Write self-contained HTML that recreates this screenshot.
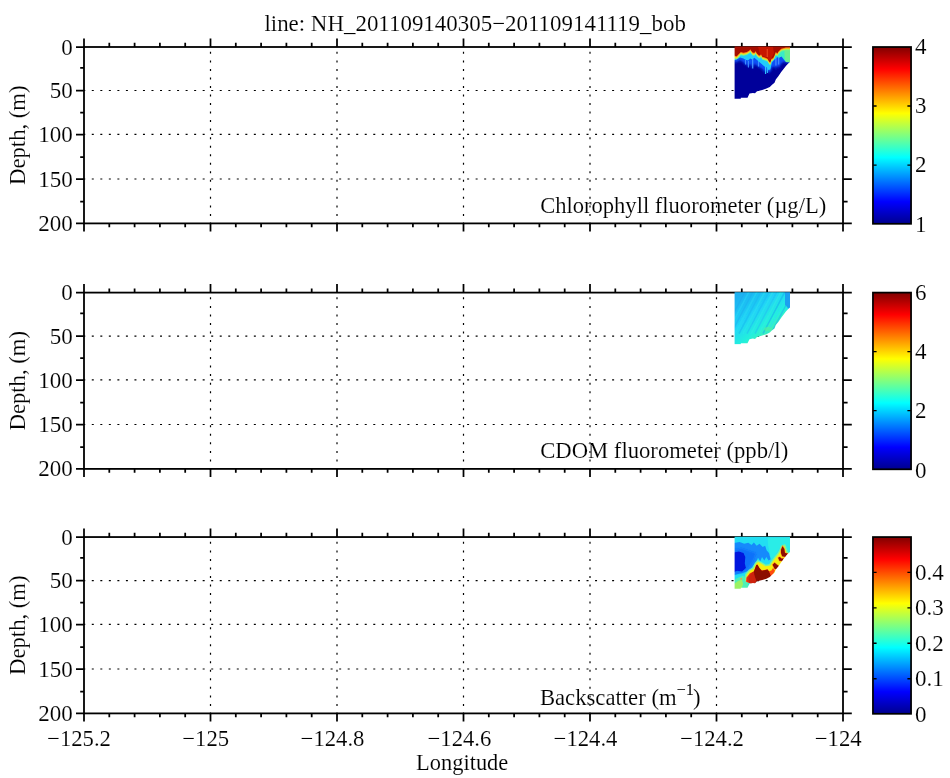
<!DOCTYPE html>
<html><head><meta charset="utf-8"><title>line: NH_201109140305-201109141119_bob</title>
<style>
html,body{margin:0;padding:0;background:#fff;}
svg{display:block;}
text{font-family:"Liberation Serif","Times New Roman",serif;font-size:22.7px;fill:#000;stroke:#fff;stroke-width:0.12px;paint-order:fill stroke;}
.ax{stroke:#000;stroke-width:1.8;fill:none;}
.tk{stroke:#000;stroke-width:1.75;fill:none;}
.gr{stroke:#000;stroke-width:1.2;stroke-dasharray:2 6.53;fill:none;}
.tl{font-size:23px;}
</style></head><body>
<svg width="950" height="778" viewBox="0 0 950 778">
<defs>
<linearGradient id="jet" x1="0" y1="1" x2="0" y2="0">
<stop offset="0" stop-color="#00008f"/><stop offset="0.125" stop-color="#0000ff"/><stop offset="0.375" stop-color="#00ffff"/><stop offset="0.625" stop-color="#ffff00"/><stop offset="0.875" stop-color="#ff0000"/><stop offset="1" stop-color="#800000"/>
</linearGradient>
<filter id="b1" x="-10%" y="-10%" width="120%" height="120%"><feGaussianBlur stdDeviation="0.7"/></filter>
<filter id="b2" x="-10%" y="-10%" width="120%" height="120%"><feGaussianBlur stdDeviation="1.1"/></filter>
<clipPath id="shape"><path d="M734.6 -0.4H790V15L788.2 16.5L785.9 19L781.2 25.1L778.5 29.1L775.8 32.5L774.5 35.8L771.8 37.9L769.8 39.9L766.4 41.6L762.3 42.9L757 44.3L755 46.3L752.9 46L749.5 46.6L747.5 50.7H740.8V51.7H734.6Z"/></clipPath>
<linearGradient id="cd" gradientUnits="userSpaceOnUse" x1="742" y1="0" x2="775" y2="40">
<stop offset="0" stop-color="#1cb0f0"/><stop offset="0.45" stop-color="#20d4f6"/><stop offset="0.75" stop-color="#24f0dc"/><stop offset="1" stop-color="#48f0a8"/>
</linearGradient>
</defs>
<rect width="950" height="778" fill="#fff"/>

<path class="gr" d="M210.50 224.45V47.00"/>
<path class="gr" d="M337.00 224.45V47.00"/>
<path class="gr" d="M463.50 224.45V47.00"/>
<path class="gr" d="M590.00 224.45V47.00"/>
<path class="gr" d="M716.50 224.45V47.00"/>
<path class="gr" d="M83.25 90.50H843.00"/>
<path class="gr" d="M83.25 134.40H843.00"/>
<path class="gr" d="M83.25 179.00H843.00"/>
<path class="gr" d="M210.50 469.95V292.60"/>
<path class="gr" d="M337.00 469.95V292.60"/>
<path class="gr" d="M463.50 469.95V292.60"/>
<path class="gr" d="M590.00 469.95V292.60"/>
<path class="gr" d="M716.50 469.95V292.60"/>
<path class="gr" d="M83.25 336.07H843.00"/>
<path class="gr" d="M83.25 379.95H843.00"/>
<path class="gr" d="M83.25 424.52H843.00"/>
<path class="gr" d="M210.50 714.45V537.05"/>
<path class="gr" d="M337.00 714.45V537.05"/>
<path class="gr" d="M463.50 714.45V537.05"/>
<path class="gr" d="M590.00 714.45V537.05"/>
<path class="gr" d="M716.50 714.45V537.05"/>
<path class="gr" d="M83.25 580.54H843.00"/>
<path class="gr" d="M83.25 624.42H843.00"/>
<path class="gr" d="M83.25 669.01H843.00"/>
<rect class="ax" x="84.0" y="47.0" width="759.0" height="176.4"/>
<path class="tk" d="M84.00 47.0v-8.6M84.00 223.4v8.2M109.30 47.0v-4.2M109.30 223.4v3.8000000000000003M134.60 47.0v-4.2M134.60 223.4v3.8000000000000003M159.90 47.0v-4.2M159.90 223.4v3.8000000000000003M185.20 47.0v-4.2M185.20 223.4v3.8000000000000003M210.50 47.0v-8.6M210.50 223.4v8.2M235.80 47.0v-4.2M235.80 223.4v3.8000000000000003M261.10 47.0v-4.2M261.10 223.4v3.8000000000000003M286.40 47.0v-4.2M286.40 223.4v3.8000000000000003M311.70 47.0v-4.2M311.70 223.4v3.8000000000000003M337.00 47.0v-8.6M337.00 223.4v8.2M362.30 47.0v-4.2M362.30 223.4v3.8000000000000003M387.60 47.0v-4.2M387.60 223.4v3.8000000000000003M412.90 47.0v-4.2M412.90 223.4v3.8000000000000003M438.20 47.0v-4.2M438.20 223.4v3.8000000000000003M463.50 47.0v-8.6M463.50 223.4v8.2M488.80 47.0v-4.2M488.80 223.4v3.8000000000000003M514.10 47.0v-4.2M514.10 223.4v3.8000000000000003M539.40 47.0v-4.2M539.40 223.4v3.8000000000000003M564.70 47.0v-4.2M564.70 223.4v3.8000000000000003M590.00 47.0v-8.6M590.00 223.4v8.2M615.30 47.0v-4.2M615.30 223.4v3.8000000000000003M640.60 47.0v-4.2M640.60 223.4v3.8000000000000003M665.90 47.0v-4.2M665.90 223.4v3.8000000000000003M691.20 47.0v-4.2M691.20 223.4v3.8000000000000003M716.50 47.0v-8.6M716.50 223.4v8.2M741.80 47.0v-4.2M741.80 223.4v3.8000000000000003M767.10 47.0v-4.2M767.10 223.4v3.8000000000000003M792.40 47.0v-4.2M792.40 223.4v3.8000000000000003M817.70 47.0v-4.2M817.70 223.4v3.8000000000000003M843.00 47.0v-8.6M843.00 223.4v8.2M84.0 47.00h-8.0M843.0 47.00h8.8M84.0 67.90h-3.8000000000000003M843.0 67.90h4.6000000000000005M84.0 90.60h-8.0M843.0 90.60h8.8M84.0 112.50h-3.8000000000000003M843.0 112.50h4.6000000000000005M84.0 134.50h-8.0M843.0 134.50h8.8M84.0 157.05h-3.8000000000000003M843.0 157.05h4.6000000000000005M84.0 179.10h-8.0M843.0 179.10h8.8M84.0 201.60h-3.8000000000000003M843.0 201.60h4.6000000000000005M84.0 223.40h-8.0M843.0 223.40h8.8"/>
<text class="tl" x="72.8" y="54.50" text-anchor="end">0</text>
<text class="tl" x="72.8" y="98.10" text-anchor="end">50</text>
<text class="tl" x="72.8" y="142.00" text-anchor="end">100</text>
<text class="tl" x="72.8" y="186.60" text-anchor="end">150</text>
<text class="tl" x="72.8" y="230.90" text-anchor="end">200</text>
<text transform="translate(24.5 135.20) rotate(-90)" text-anchor="middle" textLength="99.4" lengthAdjust="spacingAndGlyphs">Depth, (m)</text>
<rect class="ax" x="84.0" y="292.6" width="759.0" height="176.29999999999995"/>
<path class="tk" d="M84.00 292.6v-8.6M84.00 468.9v8.2M109.30 292.6v-4.2M109.30 468.9v3.8000000000000003M134.60 292.6v-4.2M134.60 468.9v3.8000000000000003M159.90 292.6v-4.2M159.90 468.9v3.8000000000000003M185.20 292.6v-4.2M185.20 468.9v3.8000000000000003M210.50 292.6v-8.6M210.50 468.9v8.2M235.80 292.6v-4.2M235.80 468.9v3.8000000000000003M261.10 292.6v-4.2M261.10 468.9v3.8000000000000003M286.40 292.6v-4.2M286.40 468.9v3.8000000000000003M311.70 292.6v-4.2M311.70 468.9v3.8000000000000003M337.00 292.6v-8.6M337.00 468.9v8.2M362.30 292.6v-4.2M362.30 468.9v3.8000000000000003M387.60 292.6v-4.2M387.60 468.9v3.8000000000000003M412.90 292.6v-4.2M412.90 468.9v3.8000000000000003M438.20 292.6v-4.2M438.20 468.9v3.8000000000000003M463.50 292.6v-8.6M463.50 468.9v8.2M488.80 292.6v-4.2M488.80 468.9v3.8000000000000003M514.10 292.6v-4.2M514.10 468.9v3.8000000000000003M539.40 292.6v-4.2M539.40 468.9v3.8000000000000003M564.70 292.6v-4.2M564.70 468.9v3.8000000000000003M590.00 292.6v-8.6M590.00 468.9v8.2M615.30 292.6v-4.2M615.30 468.9v3.8000000000000003M640.60 292.6v-4.2M640.60 468.9v3.8000000000000003M665.90 292.6v-4.2M665.90 468.9v3.8000000000000003M691.20 292.6v-4.2M691.20 468.9v3.8000000000000003M716.50 292.6v-8.6M716.50 468.9v8.2M741.80 292.6v-4.2M741.80 468.9v3.8000000000000003M767.10 292.6v-4.2M767.10 468.9v3.8000000000000003M792.40 292.6v-4.2M792.40 468.9v3.8000000000000003M817.70 292.6v-4.2M817.70 468.9v3.8000000000000003M843.00 292.6v-8.6M843.00 468.9v8.2M84.0 292.60h-8.0M843.0 292.60h8.8M84.0 313.49h-3.8000000000000003M843.0 313.49h4.6000000000000005M84.0 336.18h-8.0M843.0 336.18h8.8M84.0 358.06h-3.8000000000000003M843.0 358.06h4.6000000000000005M84.0 380.05h-8.0M843.0 380.05h8.8M84.0 402.59h-3.8000000000000003M843.0 402.59h4.6000000000000005M84.0 424.62h-8.0M843.0 424.62h8.8M84.0 447.11h-3.8000000000000003M843.0 447.11h4.6000000000000005M84.0 468.90h-8.0M843.0 468.90h8.8"/>
<text class="tl" x="72.8" y="300.10" text-anchor="end">0</text>
<text class="tl" x="72.8" y="343.68" text-anchor="end">50</text>
<text class="tl" x="72.8" y="387.55" text-anchor="end">100</text>
<text class="tl" x="72.8" y="432.12" text-anchor="end">150</text>
<text class="tl" x="72.8" y="476.40" text-anchor="end">200</text>
<text transform="translate(24.5 380.75) rotate(-90)" text-anchor="middle" textLength="99.4" lengthAdjust="spacingAndGlyphs">Depth, (m)</text>
<rect class="ax" x="84.0" y="537.05" width="759.0" height="176.35000000000002"/>
<path class="tk" d="M84.00 537.05v-8.6M84.00 713.4v8.2M109.30 537.05v-4.2M109.30 713.4v3.8000000000000003M134.60 537.05v-4.2M134.60 713.4v3.8000000000000003M159.90 537.05v-4.2M159.90 713.4v3.8000000000000003M185.20 537.05v-4.2M185.20 713.4v3.8000000000000003M210.50 537.05v-8.6M210.50 713.4v8.2M235.80 537.05v-4.2M235.80 713.4v3.8000000000000003M261.10 537.05v-4.2M261.10 713.4v3.8000000000000003M286.40 537.05v-4.2M286.40 713.4v3.8000000000000003M311.70 537.05v-4.2M311.70 713.4v3.8000000000000003M337.00 537.05v-8.6M337.00 713.4v8.2M362.30 537.05v-4.2M362.30 713.4v3.8000000000000003M387.60 537.05v-4.2M387.60 713.4v3.8000000000000003M412.90 537.05v-4.2M412.90 713.4v3.8000000000000003M438.20 537.05v-4.2M438.20 713.4v3.8000000000000003M463.50 537.05v-8.6M463.50 713.4v8.2M488.80 537.05v-4.2M488.80 713.4v3.8000000000000003M514.10 537.05v-4.2M514.10 713.4v3.8000000000000003M539.40 537.05v-4.2M539.40 713.4v3.8000000000000003M564.70 537.05v-4.2M564.70 713.4v3.8000000000000003M590.00 537.05v-8.6M590.00 713.4v8.2M615.30 537.05v-4.2M615.30 713.4v3.8000000000000003M640.60 537.05v-4.2M640.60 713.4v3.8000000000000003M665.90 537.05v-4.2M665.90 713.4v3.8000000000000003M691.20 537.05v-4.2M691.20 713.4v3.8000000000000003M716.50 537.05v-8.6M716.50 713.4v8.2M741.80 537.05v-4.2M741.80 713.4v3.8000000000000003M767.10 537.05v-4.2M767.10 713.4v3.8000000000000003M792.40 537.05v-4.2M792.40 713.4v3.8000000000000003M817.70 537.05v-4.2M817.70 713.4v3.8000000000000003M843.00 537.05v-8.6M843.00 713.4v8.2M84.0 537.05h-8.0M843.0 537.05h8.8M84.0 557.94h-3.8000000000000003M843.0 557.94h4.6000000000000005M84.0 580.64h-8.0M843.0 580.64h8.8M84.0 602.53h-3.8000000000000003M843.0 602.53h4.6000000000000005M84.0 624.52h-8.0M843.0 624.52h8.8M84.0 647.07h-3.8000000000000003M843.0 647.07h4.6000000000000005M84.0 669.11h-8.0M843.0 669.11h8.8M84.0 691.61h-3.8000000000000003M843.0 691.61h4.6000000000000005M84.0 713.40h-8.0M843.0 713.40h8.8"/>
<text class="tl" x="72.8" y="544.55" text-anchor="end">0</text>
<text class="tl" x="72.8" y="588.14" text-anchor="end">50</text>
<text class="tl" x="72.8" y="632.02" text-anchor="end">100</text>
<text class="tl" x="72.8" y="676.61" text-anchor="end">150</text>
<text class="tl" x="72.8" y="720.90" text-anchor="end">200</text>
<text transform="translate(24.5 625.22) rotate(-90)" text-anchor="middle" textLength="99.4" lengthAdjust="spacingAndGlyphs">Depth, (m)</text>
<g transform="translate(0 47.0)" clip-path="url(#shape)"><g filter="url(#b1)">
<rect x="728" y="-4" width="70" height="62" fill="#00009a"/>
<polygon points="734.0,-2.0 734.0,15.6 736.7,15.0 740.1,13.3 743.5,15.5 745.5,17.4 747.6,18.5 748.2,20.4 748.9,18.0 750.2,17.0 751.6,19.0 752.2,22.5 752.9,20.0 754.3,16.5 757.0,19.0 759.0,20.0 761.7,21.6 763.8,23.5 764.4,26.8 765.1,24.0 766.4,23.5 768.4,25.6 770.4,25.0 771.8,20.5 773.8,19.5 775.1,20.0 775.8,23.0 776.5,20.0 777.2,19.0 778.6,19.5 779.2,21.5 779.9,18.5 781.2,16.8 783.9,14.5 785.3,15.6 788.0,15.9 791.0,15.9 791.0,-2.0" fill="#0c50f6" filter="url(#b2)"/>
<path d="M748.4 14.0V20.4" stroke="#3c8cff" stroke-width="1.1"/>
<path d="M752.7 11.0V21.6" stroke="#4aa0ff" stroke-width="1.1"/>
<path d="M765.6 15.0V27.0" stroke="#30c8ff" stroke-width="1.1"/>
<path d="M767.4 19.0V26.0" stroke="#2cb8ff" stroke-width="1.1"/>
<path d="M775.9 11.0V18.5" stroke="#4c90ff" stroke-width="1.1"/>
<path d="M778.7 11.0V17.5" stroke="#4c90ff" stroke-width="1.1"/>
<path d="M745.5 13.0V17.5" stroke="#3c8cff" stroke-width="1.1"/>
<path d="M758.5 14.0V19.5" stroke="#3c8cff" stroke-width="1.1"/>
<polygon points="734.0,-2.0 734.0,13.2 736.7,12.6 740.1,10.6 743.5,11.6 745.5,12.8 748.2,13.5 750.2,11.5 752.2,12.5 754.3,10.8 757.0,13.0 759.0,14.8 761.7,17.0 764.4,19.5 766.4,20.0 768.4,23.0 770.4,22.5 771.8,16.0 773.8,13.0 775.8,11.8 777.2,10.2 779.2,10.6 781.2,9.0 783.9,9.5 785.3,13.5 788.0,15.0 791.0,15.0 791.0,-2.0" fill="#20ccfa"/>
<polygon points="776.0,3.0 791.0,0.0 791.0,15.6 785.0,14.0 781.5,9.5 778.5,11.0" fill="#38ecc8"/>
<polygon points="784.4,2.0 791.0,2.0 791.0,15.6 785.6,15.0 784.6,10.0" fill="#6cf090"/>
<polygon points="734.0,-2.0 734.0,12.5 736.7,12.3 738.8,10.5 740.8,8.3 743.5,8.8 746.8,8.1 749.4,6.6 750.2,5.2 751.2,6.8 752.9,8.8 755.0,8.6 755.6,6.9 756.3,8.4 757.0,9.5 759.0,11.5 760.4,11.3 761.0,9.6 761.7,11.6 762.3,12.8 765.0,13.5 767.7,14.8 769.1,17.5 770.4,18.2 771.4,14.8 773.1,13.7 774.5,11.5 775.8,8.1 777.2,9.5 778.5,7.4 781.2,4.7 783.9,3.9 785.9,3.6 791.0,3.6 791.0,-2.0" fill="#74f48c"/>
<polygon points="734.0,-2.0 734.0,10.9 736.7,11.4 738.8,9.2 740.8,7.1 743.5,7.7 746.8,7.0 749.4,5.5 750.2,4.1 751.2,5.7 752.9,7.7 755.0,7.5 755.6,5.8 756.3,7.3 757.0,8.4 759.0,10.4 760.4,10.2 761.0,8.5 761.7,10.5 762.3,11.7 765.0,12.4 767.7,13.7 769.1,16.4 770.4,17.1 771.4,13.7 773.1,13.1 774.5,10.4 775.8,7.0 777.2,8.4 778.5,6.3 781.2,3.6 783.9,2.8 785.9,2.5 791.0,2.5 791.0,-2.0" fill="#f0e428"/>
<polygon points="734.0,-2.0 734.0,9.5 736.7,10.2 738.8,8.1 740.8,6.1 743.5,6.8 746.8,6.1 749.4,4.6 750.2,3.2 751.2,4.8 752.9,6.8 755.0,6.6 755.6,4.9 756.3,6.4 757.0,7.5 759.0,9.5 760.4,9.3 761.0,7.6 761.7,9.6 762.3,10.8 765.0,11.5 767.7,12.8 769.1,15.5 770.4,16.2 771.4,12.8 773.1,12.2 774.5,9.5 775.8,6.1 777.2,7.5 778.5,5.4 781.2,2.7 783.9,1.9 785.9,1.6 791.0,1.6 791.0,-2.0" fill="#ff8a1c"/>
<polygon points="734.0,-2.0 734.0,8.5 736.7,9.2 738.8,7.1 740.8,5.1 743.5,5.8 746.8,5.1 749.4,3.6 750.2,2.2 751.2,3.8 752.9,5.8 755.0,5.6 755.6,3.9 756.3,5.4 757.0,6.5 759.0,8.5 760.4,8.3 761.0,6.6 761.7,8.6 762.3,9.8 765.0,10.5 767.7,11.8 769.1,14.5 770.4,15.2 771.4,11.8 773.1,11.2 774.5,8.5 775.8,5.1 777.2,6.5 778.5,4.4 781.2,1.7 783.9,0.9 785.9,0.6 791.0,0.6 791.0,-2.0" fill="#a60a00"/>
<polygon points="758.0,-0.5 773.0,-0.5 774.0,6.0 771.5,11.0 769.5,14.0 767.0,10.5 763.0,9.2 759.5,6.0" fill="#d21a08" opacity="0.75"/>
<path d="M767.3 2V10" stroke="#f0501c" stroke-width="1.1" opacity="0.8"/>
</g></g>
<g transform="translate(0 292.6)" clip-path="url(#shape)"><g filter="url(#b1)">
<rect x="728" y="-4" width="70" height="62" fill="url(#cd)"/>
<path d="M745.0 -1L723.0 41" stroke="#18a8ee" stroke-width="1.5" opacity="0.5"/>
<path d="M749.0 -1L727.0 41" stroke="#2adcf8" stroke-width="1.5" opacity="0.4"/>
<path d="M753.0 -1L731.0 41" stroke="#1aaef0" stroke-width="1.5" opacity="0.5"/>
<path d="M757.0 -1L735.0 41" stroke="#2ce2f4" stroke-width="1.5" opacity="0.4"/>
<path d="M761.0 -1L739.0 41" stroke="#1cb4f0" stroke-width="1.5" opacity="0.5"/>
<path d="M765.0 -1L743.0 41" stroke="#30e8ee" stroke-width="1.5" opacity="0.4"/>
<path d="M769.0 -1L747.0 41" stroke="#1eb8f2" stroke-width="1.5" opacity="0.5"/>
<path d="M773.0 -1L751.0 41" stroke="#34ecec" stroke-width="1.5" opacity="0.4"/>
<path d="M777.0 -1L755.0 41" stroke="#20bcf2" stroke-width="1.5" opacity="0.5"/>
<path d="M781.0 -1L759.0 41" stroke="#38eee0" stroke-width="1.5" opacity="0.4"/>
<path d="M785.0 -1L763.0 41" stroke="#18a8ee" stroke-width="1.5" opacity="0.5"/>
<path d="M789.0 -1L767.0 41" stroke="#2adcf8" stroke-width="1.5" opacity="0.4"/>
<path d="M793.0 -1L771.0 41" stroke="#1aaef0" stroke-width="1.5" opacity="0.5"/>
<path d="M797.0 -1L775.0 41" stroke="#2ce2f4" stroke-width="1.5" opacity="0.4"/>
<polygon points="785,-1 791,-1 791,15 788.5,16.5 785,12" fill="#1e9ff0"/>
<ellipse cx="768" cy="36.5" rx="4" ry="2.2" fill="#54f0a0" opacity="0.7"/>
</g></g>
<g transform="translate(0 537.05)" clip-path="url(#shape)"><g filter="url(#b1)">
<rect x="728" y="-4" width="70" height="62" fill="#22def2"/>
<polygon points="767.5,0.7 790.6,0.7 790.6,17.5 785.8,19.9 781.0,8.7 777.8,14.3 774.6,19.1 771.4,23.0 769.8,16.7 768.2,8.7" fill="#30f0e4" opacity="0.8"/>
<polygon points="734.0,5.9 739.6,4.9 744.3,6.7 748.3,5.7 751.5,7.9 753.9,5.4 756.7,8.7 759.5,6.7 762.7,9.9 765.1,8.7 766.7,13.5 769.0,15.9 770.6,22.2 768.6,23.4 766.3,19.9 764.4,23.4 762.0,19.9 760.3,24.2 758.0,20.8 756.3,24.8 753.9,27.8 751.5,31.0 749.1,33.8 745.9,34.6 742.7,36.0 738.0,37.0 734.0,38.2" fill="#168afc"/>
<polygon points="734.0,11.9 742.0,11.1 750.7,14.3 756.3,15.9 753.9,22.2 750.7,27.8 747.5,32.6 742.7,35.4 734.0,36.6" fill="#0e6cfa" opacity="0.8" filter="url(#b2)"/>
<polygon points="734.0,15.5 738.8,14.4 743.5,15.9 745.3,19.9 744.8,26.2 745.9,31.0 742.0,34.4 737.2,33.6 734.0,35.0" fill="#0414de"/>
<polygon points="734.0,43.0 738.0,40.6 742.7,38.6 746.3,40.2 748.7,45.4 747.9,52.1 734.0,53.7" fill="#50f0b4"/>
<polygon points="734.0,46.9 738.4,43.8 742.0,42.6 743.1,46.9 741.2,52.1 734.0,53.7" fill="#9cf264"/>
<circle cx="741.2" cy="41.8" r="0.9" fill="#ffa030"/>
<polygon points="745.9,37.4 749.1,33.4 753.1,31.0 755.5,26.2 757.9,23.8 761.9,26.1 765.9,28.5 769.8,27.7 772.2,23.8 774.6,20.7 777.8,16.8 780.0,13.1 781.6,9.1 784.8,7.9 787.4,15.9 790.6,16.7 771.4,40.6 753.9,46.9 745.9,43.8" fill="#f6f010" stroke="#7cf49a" stroke-width="1.5" stroke-linejoin="round"/>
<polygon points="746.3,40.6 749.9,36.2 753.9,34.2 756.3,27.8 757.5,27.4 759.5,31.0 761.9,33.4 764.3,33.0 767.5,32.2 769.0,34.2 771.4,33.4 773.0,31.0 775.0,33.4 772.2,39.0 753.9,47.7 745.9,44.6" fill="#ff4a10"/>
<polygon points="748.7,40.6 750.9,36.7 753.9,34.4 756.3,28.0 757.5,27.6 759.5,31.2 761.9,33.6 764.3,33.2 767.5,32.4 769.0,34.4 770.6,38.2 771.4,40.6 753.9,47.7 749.1,45.4" fill="#8c0800"/>
<polygon points="747.1,40.6 749.9,36.6 753.9,34.6 754.7,39.0 756.3,43.8 753.9,47.7 747.1,44.6" fill="#d82410" opacity="0.85"/>
<polygon points="772.6,27.8 774.6,25.6 777.0,27.7 779.2,29.3 777.8,32.6 774.6,31.8" fill="#8c0800" stroke="#ff8c1c" stroke-width="1.1" paint-order="stroke"/>
<polygon points="778.2,20.7 779.8,19.9 781.8,21.8 783.5,21.3 782.6,24.0 779.4,23.6" fill="#8c0800" stroke="#ff8c1c" stroke-width="1.1" paint-order="stroke"/>
<polygon points="781.0,12.7 782.6,9.1 784.3,11.9 785.0,15.9 787.8,16.5 785.8,19.9 782.2,19.2 781.0,15.9" fill="#8c0800" stroke="#ff8c1c" stroke-width="1.1" paint-order="stroke"/>
</g></g>
<rect x="872.95" y="47.0" width="38.1" height="176.80" fill="url(#jet)" stroke="#000" stroke-width="1.75"/>
<text class="tl" x="915" y="232.30">1</text>
<text class="tl" x="915" y="172.43">2</text>
<text class="tl" x="915" y="113.37">3</text>
<text class="tl" x="915" y="54.30">4</text>
<path d="M873 165.13h3.6M911 165.13h-3.6M873 106.07h3.6M911 106.07h-3.6" stroke="#000" stroke-width="1.4"/>
<rect x="872.95" y="292.6" width="38.1" height="176.70" fill="url(#jet)" stroke="#000" stroke-width="1.75"/>
<text class="tl" x="915" y="477.80">0</text>
<text class="tl" x="915" y="417.97">2</text>
<text class="tl" x="915" y="358.93">4</text>
<text class="tl" x="915" y="299.90">6</text>
<path d="M873 410.67h3.6M911 410.67h-3.6M873 351.63h3.6M911 351.63h-3.6" stroke="#000" stroke-width="1.4"/>
<rect x="872.95" y="537.05" width="38.1" height="176.75" fill="url(#jet)" stroke="#000" stroke-width="1.75"/>
<text class="tl" x="915" y="722.30">0</text>
<text class="tl" x="915" y="686.05">0.1</text>
<text class="tl" x="915" y="650.60">0.2</text>
<text class="tl" x="915" y="615.15">0.3</text>
<text class="tl" x="915" y="579.70">0.4</text>
<path d="M873 678.75h3.6M911 678.75h-3.6M873 643.30h3.6M911 643.30h-3.6M873 607.85h3.6M911 607.85h-3.6M873 572.40h3.6M911 572.40h-3.6" stroke="#000" stroke-width="1.4"/>
<text x="264.4" y="30.8" style="font-size:22.8px" textLength="421.5" lengthAdjust="spacingAndGlyphs">line: NH_201109140305−201109141119_bob</text>
<text x="540.2" y="213.1" textLength="286" lengthAdjust="spacingAndGlyphs">Chlorophyll fluorometer (µg/L)</text>
<text x="540.2" y="457.7" textLength="248" lengthAdjust="spacingAndGlyphs">CDOM fluorometer (ppb/l)</text>
<text x="539.9" y="704.8">Backscatter (m<tspan dy="-9.9" style="font-size:16.4px;stroke:none">−1</tspan><tspan dy="9.9" dx="-1">)</tspan></text>
<text x="47.1" y="745.8">−125.2</text>
<text x="182.3" y="745.8">−125</text>
<text x="300.6" y="745.8">−124.8</text>
<text x="427.5" y="745.8">−124.6</text>
<text x="553.6" y="745.8">−124.4</text>
<text x="680.1" y="745.8">−124.2</text>
<text x="814.8" y="745.8">−124</text>
<text x="416.1" y="769.9" textLength="92.2" lengthAdjust="spacingAndGlyphs">Longitude</text>
</svg></body></html>
